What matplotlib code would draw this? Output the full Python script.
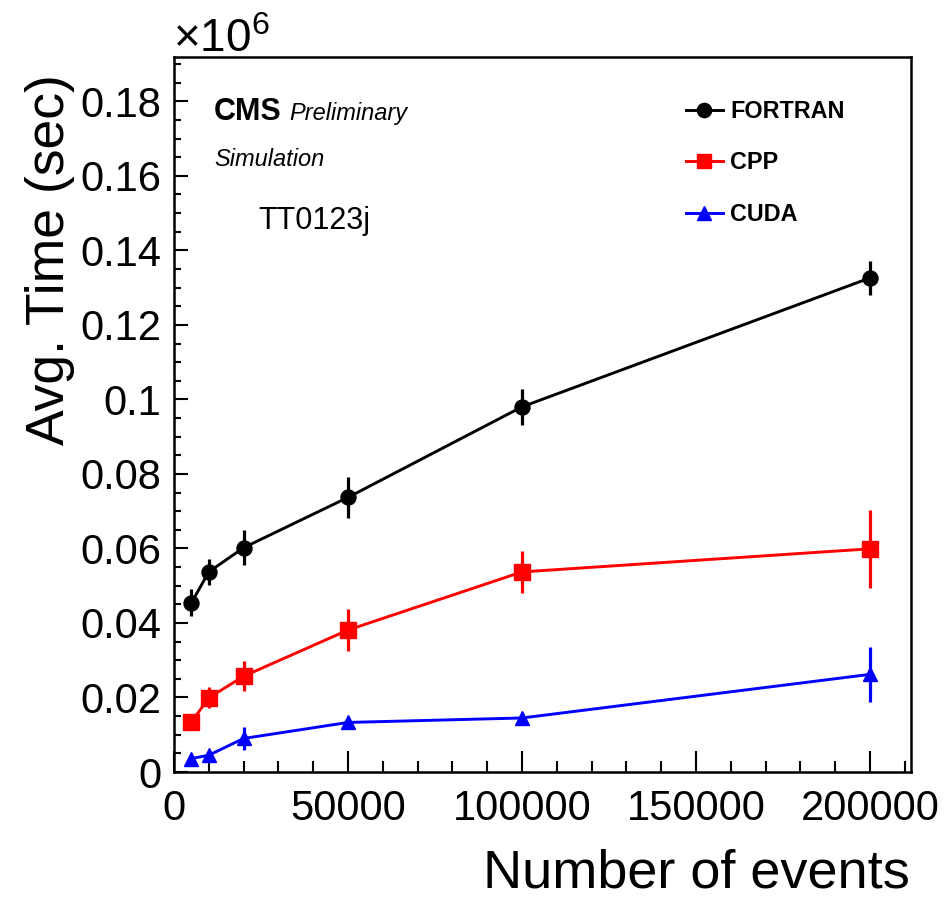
import matplotlib
matplotlib.use("Agg")
import matplotlib.pyplot as plt
from matplotlib.ticker import MultipleLocator, FuncFormatter
from matplotlib.lines import Line2D

# ---------------- data ----------------
n_events = [5000, 10000, 20000, 50000, 100000, 200000]

fortran_time = [45400, 53700, 60200, 73700, 98000, 132600]
fortran_err = [3600, 3500, 4700, 5400, 4900, 4600]

cpp_time = [13400, 19900, 25700, 38100, 53700, 59900]
cpp_err = [2100, 2800, 4000, 5700, 5700, 10400]

cuda_time = [3600, 4500, 9000, 13300, 14500, 26200]
cuda_err = [1000, 1000, 3200, 1500, 1000, 7400]

series_labels = ["FORTRAN", "CPP", "CUDA"]
x_label = "Number of events"
y_label = "Avg. Time (sec)"
SCALE = 1e6

W, H = 947, 898
FONT = "Liberation Sans"
plt.rcParams["font.family"] = [FONT, "DejaVu Sans"]
plt.rcParams["mathtext.fontset"] = "custom"
plt.rcParams["mathtext.rm"] = FONT
plt.rcParams["mathtext.it"] = FONT + ":italic"
plt.rcParams["mathtext.bf"] = FONT + ":bold"

fig = plt.figure(figsize=(W / 100, H / 100), dpi=100)
ax = fig.add_axes([174 / W, 1 - 772 / H, (911 - 174) / W, (772 - 57) / H])


def fx(x):
    return x / W


def fy(y):
    return 1 - y / H


styles = [
    ("black", "o", 10.8, fortran_time, fortran_err),
    ("#ff0000", "s", 11.0, cpp_time, cpp_err),
    ("#0000ff", "^", 10.6, cuda_time, cuda_err),
]

handles = []
for (color, marker, ms, vals, errs), lab in zip(styles, series_labels):
    yv = [v / SCALE for v in vals]
    ye = [e / SCALE for e in errs]
    ax.errorbar(n_events, yv, yerr=ye, color=color, marker=marker, ms=ms,
                lw=2.1, elinewidth=2.3, capsize=0, mec=color, mfc=color,
                zorder=3)
    handles.append(Line2D([], [], color=color, marker=marker, ms=ms * 0.95,
                          lw=2.1, mec=color, mfc=color))

ax.set_xlim(0, 211800)
ax.set_ylim(0, 0.1919)

ax.xaxis.set_major_locator(MultipleLocator(50000))
ax.xaxis.set_minor_locator(MultipleLocator(10000))
ax.yaxis.set_major_locator(MultipleLocator(0.02))
ax.yaxis.set_minor_locator(MultipleLocator(0.005))
ax.xaxis.set_major_formatter(FuncFormatter(lambda v, p: f"{v:.0f}"))
ax.yaxis.set_major_formatter(FuncFormatter(lambda v, p: f"{v:.2f}".rstrip("0").rstrip(".") if v != 0 else "0"))

ax.tick_params(axis="both", which="both", direction="in", top=False, right=False,
               width=1.5, labelsize=30)
ax.tick_params(axis="x", which="major", length=15, pad=12)
ax.tick_params(axis="x", which="minor", length=8)
ax.tick_params(axis="y", which="major", length=10, pad=9)
ax.tick_params(axis="y", which="minor", length=5)
for sp in ax.spines.values():
    sp.set_linewidth(1.8)

# axis titles (ROOT style, aligned at the axis ends)
fig.text(fx(910), fy(888), x_label, ha="right", va="baseline", fontsize=39)
fig.text(fx(50), fy(74), y_label, ha="center", va="top", rotation=90, fontsize=38.5)

# exponent
fig.text(fx(173), fy(52), r"$\times\mathregular{10^{6}}$", ha="left", va="baseline", fontsize=33)

# CMS labels
fig.text(fx(214), fy(120), "CMS", ha="left", va="baseline", fontsize=22, fontweight="bold")
fig.text(fx(289), fy(120), "Preliminary", ha="left", va="baseline", fontsize=17, style="italic")
fig.text(fx(214), fy(166), "Simulation", ha="left", va="baseline", fontsize=17, style="italic")
fig.text(fx(258), fy(229), "TT0123j", ha="left", va="baseline", fontsize=22)

leg = ax.legend(handles, series_labels, loc="upper left",
                bbox_to_anchor=(fx(686), fy(100)), bbox_transform=fig.transFigure,
                frameon=False, borderpad=0, borderaxespad=0, handlelength=1.57,
                handletextpad=0.32, labelspacing=1.22,
                prop={"family": FONT, "weight": "bold", "size": 16.8})

fig.savefig("out.png", dpi=100)
